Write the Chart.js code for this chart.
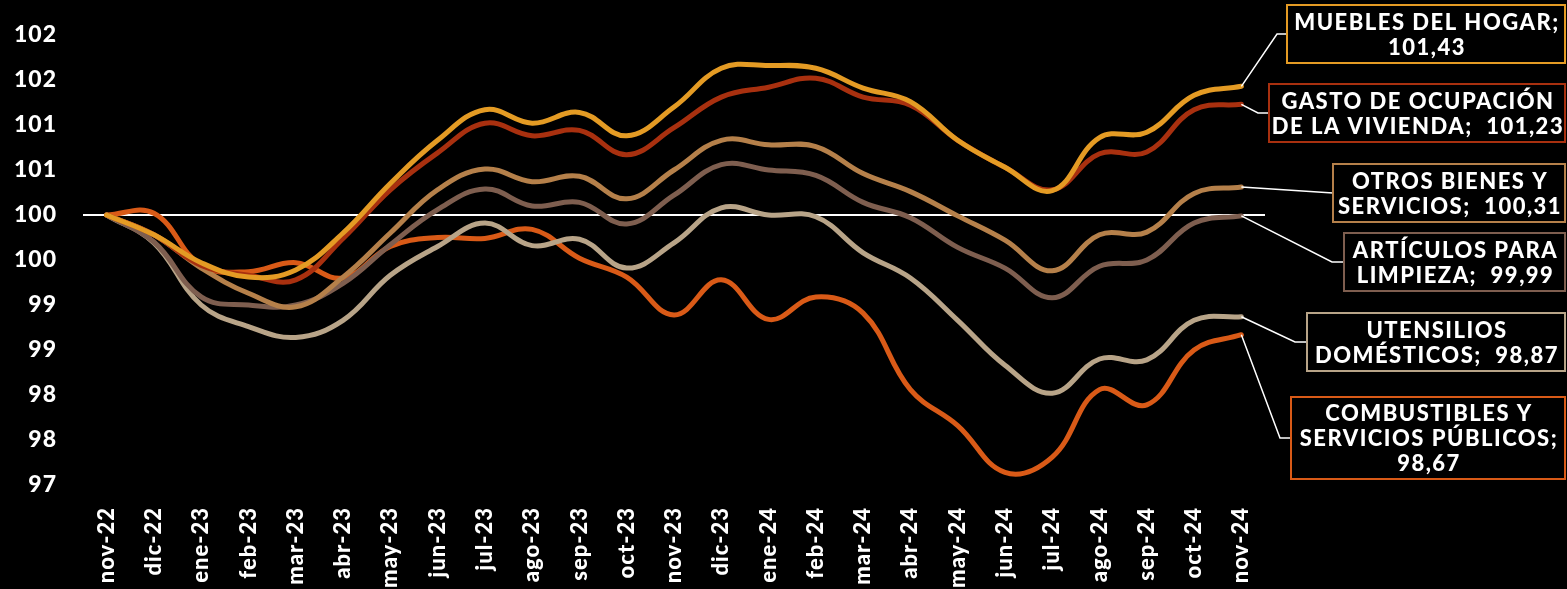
<!DOCTYPE html>
<html>
<head>
<meta charset="utf-8">
<script src="https://cdn.jsdelivr.net/npm/chart.js@4.4.1/dist/chart.umd.min.js"></script>
<style>
  html, body { margin: 0; padding: 0; background: #000; }
  canvas { display: block; }
</style>
</head>
<body>
<canvas id="chart" width="1567" height="589"></canvas>
<script>
const months = ['nov-22','dic-22','ene-23','feb-23','mar-23','abr-23','may-23','jun-23','jul-23','ago-23','sep-23','oct-23',
  'nov-23','dic-23','ene-24','feb-24','mar-24','abr-24','may-24','jun-24','jul-24','ago-24','sep-24','oct-24','nov-24'];

const muebles      = [100, 99.78, 99.47, 99.31, 99.39, 99.80, 100.35, 100.83, 101.17, 101.02, 101.14, 100.88, 101.20, 101.63, 101.66, 101.63, 101.41, 101.26, 100.83, 100.53, 100.27, 100.86, 100.92, 101.33, 101.43];
const gasto        = [100, 99.78, 99.44, 99.33, 99.28, 99.74, 100.28, 100.69, 101.02, 100.88, 100.94, 100.67, 100.97, 101.31, 101.42, 101.52, 101.31, 101.22, 100.83, 100.53, 100.28, 100.68, 100.70, 101.17, 101.23];
const otros        = [100, 99.78, 99.41, 99.13, 98.98, 99.31, 99.80, 100.28, 100.51, 100.37, 100.43, 100.18, 100.50, 100.83, 100.78, 100.76, 100.46, 100.26, 99.99, 99.72, 99.38, 99.78, 99.81, 100.24, 100.31];
const articulos    = [100, 99.70, 99.09, 99.00, 99.00, 99.24, 99.67, 100.06, 100.29, 100.10, 100.14, 99.90, 100.22, 100.56, 100.50, 100.44, 100.14, 99.97, 99.64, 99.41, 99.08, 99.43, 99.50, 99.91, 99.99];
const utensilios   = [100, 99.69, 99.00, 98.76, 98.64, 98.83, 99.33, 99.65, 99.91, 99.66, 99.73, 99.41, 99.69, 100.08, 100.00, 99.98, 99.58, 99.30, 98.83, 98.33, 98.02, 98.40, 98.39, 98.83, 98.87];
const combustibles = [100, 100.02, 99.44, 99.37, 99.47, 99.30, 99.65, 99.75, 99.74, 99.84, 99.52, 99.31, 98.89, 99.28, 98.84, 99.09, 98.91, 98.06, 97.66, 97.14, 97.31, 98.06, 97.89, 98.50, 98.67];

const seriesNames = ['MUEBLES DEL HOGAR', 'GASTO DE OCUPACIÓN|DE LA VIVIENDA', 'OTROS BIENES Y|SERVICIOS',
  'ARTÍCULOS PARA|LIMPIEZA', 'UTENSILIOS|DOMÉSTICOS', 'COMBUSTIBLES Y|SERVICIOS PÚBLICOS'];
const seriesData = [muebles, gasto, otros, articulos, utensilios, combustibles];
const seriesColors = ['#E49B24', '#A8300F', '#B5804A', '#7E5E4F', '#B8A488', '#D95A17'];

const yMin = 97, yMax = 102, yStep = 0.5;

// label boxes at the right (pixel layout only)
const boxes = [
  { x: 1287, y: 5,   h: 58, gap: 10, valueNewLine: true },
  { x: 1269, y: 84,  h: 58, gap: 11, valueNewLine: false },
  { x: 1333, y: 164, h: 58, gap: 0,  valueNewLine: false },
  { x: 1344, y: 233, h: 58, gap: 12, valueNewLine: false },
  { x: 1307, y: 313, h: 58, gap: 12, valueNewLine: false },
  { x: 1291, y: 397, h: 82, gap: 11, valueNewLine: true }
];
const boxRight = 1565;

const labelBoxes = {
  id: 'labelBoxes',
  beforeDraw(chart) {
    chart.ctx.letterSpacing = '1px';
  },
  afterDraw(chart) {
    const ctx = chart.ctx;
    ctx.save();
    boxes.forEach((b, i) => {
      const meta = chart.getDatasetMeta(i);
      const pt = meta.data[meta.data.length - 1];
      const cy = b.y + b.h / 2;
      ctx.strokeStyle = '#ffffff';
      ctx.lineWidth = 1.5;
      ctx.beginPath();
      ctx.moveTo(pt.x, pt.y);
      ctx.lineTo(b.x - b.gap, cy);
      ctx.lineTo(b.x, cy);
      ctx.stroke();

      ctx.fillStyle = '#000';
      ctx.fillRect(b.x, b.y, boxRight - b.x, b.h);
      ctx.strokeStyle = seriesColors[i];
      ctx.lineWidth = 2;
      ctx.strokeRect(b.x, b.y, boxRight - b.x, b.h);

      const data = seriesData[i];
      const val = data[data.length - 1].toFixed(2).replace('.', ',');
      const text = seriesNames[i] + ';' + (b.valueNewLine ? '|' : '  ') + val;
      const lines = text.split('|');
      ctx.fillStyle = '#ffffff';
      ctx.font = '900 22px Lato';
      ctx.letterSpacing = '1.5px';
      ctx.textAlign = 'center';
      ctx.textBaseline = 'middle';
      const lh = 25;
      const top = cy - (lines.length - 1) * lh / 2;
      const cx = (b.x + boxRight) / 2 + 1;
      lines.forEach((l, k) => ctx.fillText(l, cx, top + k * lh + 1));
    });
    ctx.restore();
    ctx.letterSpacing = '0px';
  }
};

const ctx = document.getElementById('chart').getContext('2d');
const chart = new Chart(ctx, {
  type: 'line',
  data: {
    labels: months,
    datasets: seriesData.map((d, i) => ({
      label: seriesNames[i].replace('|', ' '),
      data: d,
      borderColor: seriesColors[i],
      backgroundColor: seriesColors[i],
      borderWidth: 5,
      tension: 0.4,
      pointRadius: 0,
      borderCapStyle: 'round',
      borderJoinStyle: 'round'
    }))
  },
  options: {
    responsive: false,
    animation: false,
    devicePixelRatio: 1,
    layout: { padding: { left: 0, right: 302, top: 35, bottom: 0 } },
    plugins: {
      legend: { display: false },
      title: { display: false },
      tooltip: { enabled: false }
    },
    scales: {
      x: {
        offset: true,
        grid: { display: false },
        border: { display: false },
        ticks: {
          color: '#ffffff',
          font: { family: 'Lato', size: 22, weight: '900' },
          minRotation: 90,
          maxRotation: 90,
          autoSkip: false,
          padding: 14
        },
        afterFit: s => { s.height = 104; s.paddingLeft = 0; s.paddingRight = 0; }
      },
      y: {
        min: yMin,
        max: yMax,
        border: { display: false },
        grid: {
          drawTicks: false,
          color: c => c.tick && c.tick.value === 100 ? '#ffffff' : 'rgba(0,0,0,0)',
          lineWidth: 2
        },
        ticks: {
          stepSize: yStep,
          color: '#ffffff',
          font: { family: 'Lato', size: 23, weight: '900' },
          padding: 26,
          callback: v => Math.round(v)
        },
        afterFit: s => { s.width = 83; s.paddingTop = 0; s.paddingBottom = 0; }
      }
    }
  },
  plugins: [labelBoxes]
});
</script>
</body>
</html>
